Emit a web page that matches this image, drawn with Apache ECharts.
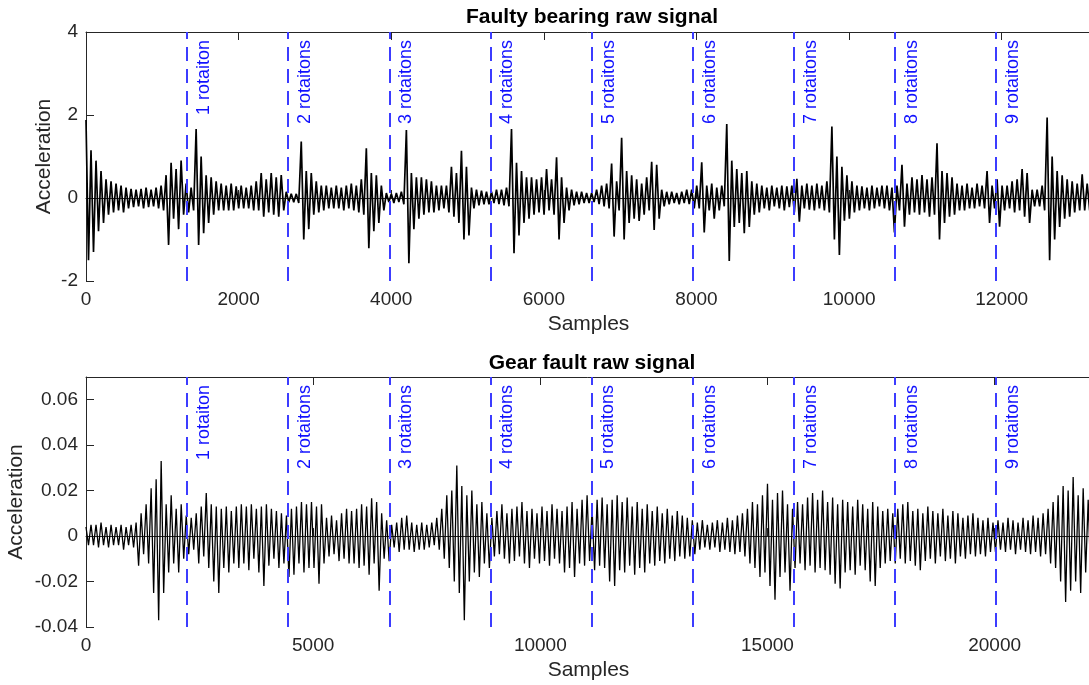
<!DOCTYPE html>
<html>
<head>
<meta charset="utf-8">
<style>
  html, body { margin: 0; padding: 0; background: #fff; }
  #chart { width: 1089px; height: 685px; }
</style>
<script src="https://cdn.jsdelivr.net/npm/echarts@6/dist/echarts.min.js"></script>
</head>
<body>
<div id="chart"></div>
<script>
// Envelope of the faulty-bearing record: upper and lower extreme per block of samples
const bearingStep = 65.6;
const bearingHi = [
  1.88, 1.15, 0.9, 0.65, 0.45, 0.4, 0.35, 0.3, 0.25, 0.22,
  0.2, 0.22, 0.25, 0.2, 0.25, 0.3, 0.55, 0.85, 0.7, 0.9,
  0.35, 0.25, 1.66, 1.0, 0.55, 0.5, 0.4, 0.35, 0.3, 0.35,
  0.28, 0.3, 0.25, 0.3, 0.4, 0.6, 0.45, 0.6, 0.5, 0.55,
  0.15, 0.1, 0.1, 1.36, 0.65, 0.6, 0.4, 0.3, 0.3, 0.25,
  0.3, 0.25, 0.3, 0.35, 0.3, 0.45, 1.2, 0.6, 0.55, 0.3,
  0.12, 0.1, 0.12, 0.15, 1.64, 0.6, 0.5, 0.5, 0.45, 0.4,
  0.3, 0.3, 0.3, 0.75, 0.6, 1.14, 0.75, 0.25, 0.2, 0.18,
  0.15, 0.15, 0.2, 0.2, 0.25, 1.66, 0.85, 0.65, 0.5, 0.5,
  0.45, 0.5, 0.7, 0.45, 0.98, 0.5, 0.25, 0.2, 0.15, 0.15,
  0.12, 0.12, 0.2, 0.3, 0.35, 0.83, 0.4, 1.45, 0.65, 0.55,
  0.45, 0.35, 0.5, 0.87, 0.8, 0.2, 0.15, 0.15, 0.12, 0.15,
  0.2, 0.2, 0.3, 0.86, 0.3, 0.35, 0.25, 0.3, 1.78, 0.9,
  0.7, 0.6, 0.65, 0.4, 0.35, 0.3, 0.25, 0.3, 0.25, 0.3,
  0.28, 0.3, 0.46, 0.3, 0.35, 0.3, 0.35, 0.3, 0.4, 1.72,
  1.0, 0.75, 0.55, 0.4, 0.3, 0.28, 0.25, 0.3, 0.25, 0.3,
  0.3, 0.25, 0.3, 0.8, 0.35, 0.5, 0.45, 0.55, 0.45, 0.5,
  1.32, 0.65, 0.6, 0.5, 0.35, 0.3, 0.35, 0.25, 0.35, 0.3,
  0.65, 0.3, 0.45, 0.3, 0.3, 0.4, 0.45, 0.7, 0.6, 0.2,
  0.2, 0.3, 1.94, 1.0, 0.65, 0.55, 0.45, 0.4, 0.35, 0.57,
  0.35
];
const bearingLo = [
  -1.5, -1.3, -0.8, -0.6, -0.4, -0.35, -0.3, -0.35, -0.25, -0.22,
  -0.2, -0.25, -0.22, -0.2, -0.25, -0.3, -1.13, -0.5, -0.75, -0.4,
  -0.35, -0.3, -1.13, -0.85, -0.6, -0.4, -0.3, -0.3, -0.3, -0.3,
  -0.25, -0.25, -0.25, -0.3, -0.3, -0.45, -0.35, -0.4, -0.45, -0.3,
  -0.1, -0.1, -0.12, -1.0, -0.75, -0.4, -0.35, -0.3, -0.25, -0.25,
  -0.25, -0.3, -0.25, -0.3, -0.35, -0.4, -1.21, -0.8, -0.6, -0.3,
  -0.1, -0.12, -0.1, -0.15, -1.57, -0.75, -0.5, -0.4, -0.35, -0.35,
  -0.3, -0.25, -0.35, -0.45, -0.6, -1.0, -0.9, -0.25, -0.18, -0.15,
  -0.15, -0.12, -0.15, -0.18, -0.2, -1.33, -0.9, -0.6, -0.5, -0.4,
  -0.35, -0.4, -0.3, -0.4, -1.0, -0.6, -0.3, -0.18, -0.15, -0.12,
  -0.12, -0.1, -0.15, -0.2, -0.25, -0.93, -0.3, -1.0, -0.6, -0.5,
  -0.55, -0.4, -0.3, -0.77, -0.5, -0.2, -0.15, -0.12, -0.15, -0.12,
  -0.15, -0.25, -0.25, -0.83, -0.3, -0.5, -0.3, -0.2, -1.52, -0.7,
  -0.6, -0.85, -0.7, -0.4, -0.35, -0.25, -0.3, -0.2, -0.25, -0.3,
  -0.22, -0.35, -0.57, -0.25, -0.28, -0.3, -0.25, -0.3, -0.35, -1.0,
  -1.37, -0.55, -0.5, -0.35, -0.3, -0.25, -0.3, -0.25, -0.2, -0.25,
  -0.3, -0.83, -0.3, -0.69, -0.4, -0.35, -0.4, -0.35, -0.45, -0.4,
  -1.0, -0.6, -0.45, -0.4, -0.3, -0.3, -0.25, -0.25, -0.2, -0.25,
  -0.6, -0.25, -0.69, -0.3, -0.25, -0.35, -0.3, -0.45, -0.6, -0.2,
  -0.2, -0.3, -1.5, -1.0, -0.7, -0.5, -0.45, -0.35, -0.3, -0.3,
  -0.3
];

// Envelope of the gear-fault record
const gearStep = 110.3;
const gearHi = [
  0.004, 0.005, 0.005, 0.006, 0.004, 0.005, 0.004, 0.005, 0.004, 0.005,
  0.006, 0.01, 0.014, 0.021, 0.025, 0.033, 0.014, 0.018, 0.012, 0.014,
  0.009, 0.008, 0.01, 0.013, 0.019, 0.014, 0.013, 0.012, 0.013, 0.011,
  0.013, 0.014, 0.013, 0.014, 0.012, 0.013, 0.014, 0.012, 0.011, 0.01,
  0.009, 0.012, 0.013, 0.015, 0.014, 0.015, 0.013, 0.014, 0.008, 0.009,
  0.007, 0.01, 0.012, 0.011, 0.012, 0.014, 0.013, 0.0166, 0.015, 0.01,
  0.007, 0.005, 0.006, 0.008, 0.009, 0.006, 0.005, 0.006, 0.005, 0.006,
  0.008, 0.012, 0.018, 0.02, 0.031, 0.022, 0.018, 0.02, 0.014, 0.015,
  0.01, 0.008, 0.011, 0.014, 0.01, 0.012, 0.013, 0.015, 0.011, 0.012,
  0.01, 0.013, 0.011, 0.014, 0.012, 0.011, 0.013, 0.015, 0.012, 0.016,
  0.018, 0.012, 0.016, 0.017, 0.014, 0.016, 0.018, 0.015, 0.017, 0.013,
  0.015, 0.012, 0.014, 0.011, 0.013, 0.01, 0.012, 0.009, 0.011, 0.009,
  0.008, 0.007, 0.006, 0.007, 0.005, 0.006, 0.007, 0.006, 0.008, 0.007,
  0.009, 0.01, 0.012, 0.015, 0.014, 0.018, 0.023, 0.016, 0.019, 0.02,
  0.014, 0.012, 0.015, 0.014, 0.017, 0.019, 0.016, 0.02, 0.015, 0.017,
  0.014, 0.016, 0.015, 0.013, 0.016, 0.014, 0.012, 0.015, 0.013, 0.011,
  0.012, 0.01, 0.012, 0.014, 0.015, 0.011, 0.012, 0.01, 0.013, 0.011,
  0.01, 0.012, 0.009, 0.011, 0.01, 0.008, 0.009, 0.01, 0.008, 0.007,
  0.008, 0.006, 0.007, 0.006, 0.008, 0.007, 0.006, 0.008, 0.007, 0.009,
  0.008, 0.01, 0.012, 0.015, 0.018, 0.022, 0.02, 0.026, 0.018, 0.021,
  0.016
];
const gearLo = [
  -0.004, -0.004, -0.005, -0.004, -0.005, -0.004, -0.004, -0.006, -0.004, -0.005,
  -0.013, -0.008, -0.012, -0.025, -0.037, -0.025, -0.016, -0.012, -0.016, -0.01,
  -0.008, -0.006, -0.012, -0.009, -0.014, -0.02, -0.025, -0.014, -0.016, -0.012,
  -0.014, -0.012, -0.015, -0.01, -0.016, -0.022, -0.013, -0.01, -0.014, -0.012,
  -0.018, -0.017, -0.012, -0.016, -0.014, -0.014, -0.021, -0.012, -0.009, -0.008,
  -0.011, -0.01, -0.012, -0.012, -0.014, -0.013, -0.017, -0.012, -0.024, -0.01,
  -0.011, -0.005, -0.007, -0.006, -0.006, -0.007, -0.006, -0.006, -0.005, -0.004,
  -0.006, -0.01, -0.014, -0.02, -0.025, -0.037, -0.02, -0.016, -0.018, -0.012,
  -0.014, -0.009, -0.008, -0.01, -0.012, -0.011, -0.009, -0.012, -0.014, -0.01,
  -0.012, -0.011, -0.013, -0.01, -0.012, -0.016, -0.014, -0.018, -0.012, -0.013,
  -0.011, -0.015, -0.013, -0.014, -0.02, -0.022, -0.015, -0.016, -0.013, -0.017,
  -0.014, -0.016, -0.012, -0.013, -0.011, -0.012, -0.01, -0.011, -0.009, -0.01,
  -0.009, -0.008, -0.006, -0.005, -0.006, -0.005, -0.007, -0.006, -0.007, -0.008,
  -0.007, -0.009, -0.012, -0.014, -0.018, -0.016, -0.022, -0.028, -0.018, -0.016,
  -0.024, -0.014, -0.012, -0.015, -0.013, -0.016, -0.014, -0.015, -0.017, -0.021,
  -0.023, -0.016, -0.015, -0.017, -0.013, -0.015, -0.02, -0.022, -0.014, -0.012,
  -0.011, -0.012, -0.01, -0.012, -0.011, -0.013, -0.015, -0.011, -0.01, -0.012,
  -0.009, -0.011, -0.01, -0.012, -0.009, -0.01, -0.008, -0.009, -0.008, -0.009,
  -0.007, -0.007, -0.006, -0.007, -0.006, -0.008, -0.006, -0.007, -0.008, -0.007,
  -0.009, -0.008, -0.012, -0.014, -0.02, -0.029, -0.024, -0.02, -0.025, -0.016,
  -0.018
];

// Shaft rotation period (samples) and the marker labels
const bearingRotation = 1325;
const gearRotation = 2225.5;
const rotationLabels = ['1 rotaiton', '2 rotaitons', '3 rotaitons', '4 rotaitons',
  '5 rotaitons', '6 rotaitons', '7 rotaitons', '8 rotaitons', '9 rotaitons'];

const titles = ['Faulty bearing raw signal', 'Gear fault raw signal'];

const FONT = "'Liberation Sans', Arial, sans-serif";
const AXIS_COLOR = '#262626';

// Alternate each block's upper and lower extreme so the trace sweeps the band
function trace(hi, lo, step) {
  const pts = [];
  for (let i = 0; i < hi.length; i++) {
    pts.push([i * step, hi[i]]);
    pts.push([i * step + step / 2, lo[i]]);
  }
  return pts;
}

function rotationMarks(period) {
  return rotationLabels.map((txt, k) => ({
    xAxis: (k + 1) * period,
    label: { formatter: txt }
  }));
}

function markLineCfg(period) {
  return {
    silent: true,
    symbol: 'none',
    animation: false,
    lineStyle: { color: '#3c3cff', width: 2, type: [14, 8] },
    label: {
      show: true,
      position: 'insideEndBottom',
      color: '#1010ff',
      fontSize: 18,
      fontFamily: FONT,
      distance: 8
    },
    data: rotationMarks(period)
  };
}

const plainNumber = v => String(v);

function bottomX(gridIndex, max, interval) {
  return {
    type: 'value', gridIndex, min: 0, max, interval,
    name: 'Samples', nameLocation: 'middle', nameGap: 33,
    nameTextStyle: { color: AXIS_COLOR, fontSize: 21, fontFamily: FONT },
    axisLine: { show: true, lineStyle: { color: AXIS_COLOR, width: 1 } },
    axisTick: { show: true, inside: true, length: 8, lineStyle: { color: AXIS_COLOR } },
    axisLabel: { color: AXIS_COLOR, fontSize: 19, fontFamily: FONT, margin: 9,
      showMaxLabel: false, formatter: plainNumber },
    splitLine: { show: false }
  };
}
function topX(gridIndex, max, interval) {
  return {
    type: 'value', gridIndex, min: 0, max, interval, position: 'top',
    axisLine: { show: true, lineStyle: { color: AXIS_COLOR, width: 1 } },
    axisTick: { show: true, inside: true, length: 8, lineStyle: { color: AXIS_COLOR } },
    axisLabel: { show: false },
    splitLine: { show: false }
  };
}
function leftY(gridIndex, min, max, interval, nameGap, showMax) {
  return {
    type: 'value', gridIndex, min, max, interval,
    name: 'Acceleration', nameLocation: 'middle', nameGap, nameMoveOverlap: false,
    nameTextStyle: { color: AXIS_COLOR, fontSize: 21, fontFamily: FONT },
    axisLine: { show: true, lineStyle: { color: AXIS_COLOR, width: 1 } },
    axisTick: { show: true, inside: true, length: 8, lineStyle: { color: AXIS_COLOR } },
    axisLabel: { color: AXIS_COLOR, fontSize: 19, fontFamily: FONT, margin: 8,
      showMaxLabel: showMax, formatter: plainNumber },
    splitLine: { show: false }
  };
}

const chart = echarts.init(document.getElementById('chart'), null, { renderer: 'canvas' });
chart.setOption({
  animation: false,
  backgroundColor: '#ffffff',
  title: [
    { text: titles[0], left: 587, top: 2, textAlign: 'center',
      textStyle: { fontSize: 21, fontWeight: 'bold', color: '#000', fontFamily: FONT } },
    { text: titles[1], left: 587, top: 348, textAlign: 'center',
      textStyle: { fontSize: 21, fontWeight: 'bold', color: '#000', fontFamily: FONT } }
  ],
  grid: [
    { left: 86, right: -2, top: 32, height: 249, outerBoundsMode: 'none', containLabel: false },
    { left: 86, right: -2, top: 377, height: 250, outerBoundsMode: 'none', containLabel: false }
  ],
  xAxis: [
    bottomX(0, 13170, 2000),
    bottomX(1, 22122, 5000),
    topX(0, 13170, 2000),
    topX(1, 22122, 5000)
  ],
  yAxis: [
    leftY(0, -2, 4, 2, 31, true),
    leftY(1, -0.04, 0.07, 0.02, 59, false)
  ],
  series: [
    {
      type: 'line', xAxisIndex: 0, yAxisIndex: 0,
      data: trace(bearingHi, bearingLo, bearingStep),
      showSymbol: false, symbol: 'none', sampling: null,
      lineStyle: { color: '#000', width: 1.7 },
      z: 2,
      markLine: markLineCfg(bearingRotation)
    },
    {
      type: 'line', xAxisIndex: 1, yAxisIndex: 1,
      data: trace(gearHi, gearLo, gearStep),
      showSymbol: false, symbol: 'none', sampling: null,
      lineStyle: { color: '#000', width: 1.3 },
      z: 2,
      markLine: markLineCfg(gearRotation)
    }
  ]
});
</script>
</body>
</html>
